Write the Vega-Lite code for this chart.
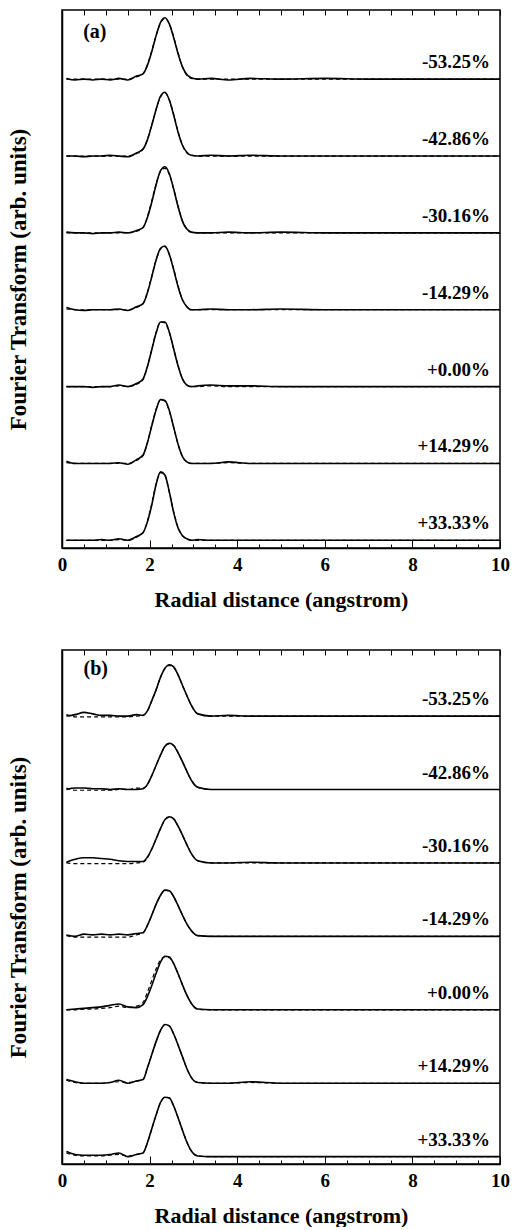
{
"$schema": "https://vega.github.io/schema/vega-lite/v6.json",
"padding": {"left": 6, "top": 8, "right": 2, "bottom": 0},
"config": {"font": "Liberation Serif", "view": {"stroke": "black", "strokeWidth": 1.5},
 "axis": {"domainColor": "black", "domainWidth": 1.5, "tickColor": "black", "tickWidth": 1, "labelColor": "black", "titleColor": "black", "labelFont": "Liberation Serif", "titleFont": "Liberation Serif", "labelFontWeight": "bold", "titleFontWeight": "bold", "grid": false}},
"spacing": 37,
"datasets": {"d": [
{"p":"a","s":"-53.25%","r":0.1,"e":6.11,"f":6.10},{"p":"a","s":"-53.25%","r":0.3,"e":6.09,"f":6.10},{"p":"a","s":"-53.25%","r":0.5,"e":6.10,"f":6.10},{"p":"a","s":"-53.25%","r":0.7,"e":6.09,"f":6.10},{"p":"a","s":"-53.25%","r":0.9,"e":6.10,"f":6.10},{"p":"a","s":"-53.25%","r":1.1,"e":6.09,"f":6.10},{"p":"a","s":"-53.25%","r":1.3,"e":6.11,"f":6.10},{"p":"a","s":"-53.25%","r":1.5,"e":6.09,"f":6.10},{"p":"a","s":"-53.25%","r":1.7,"e":6.14,"f":6.13},{"p":"a","s":"-53.25%","r":1.85,"e":6.17,"f":6.17},{"p":"a","s":"-53.25%","r":1.95,"e":6.28,"f":6.29},{"p":"a","s":"-53.25%","r":2.05,"e":6.46,"f":6.47},{"p":"a","s":"-53.25%","r":2.15,"e":6.67,"f":6.67},{"p":"a","s":"-53.25%","r":2.25,"e":6.84,"f":6.83},{"p":"a","s":"-53.25%","r":2.35,"e":6.90,"f":6.89},{"p":"a","s":"-53.25%","r":2.45,"e":6.82,"f":6.82},{"p":"a","s":"-53.25%","r":2.55,"e":6.64,"f":6.65},{"p":"a","s":"-53.25%","r":2.65,"e":6.43,"f":6.44},{"p":"a","s":"-53.25%","r":2.75,"e":6.26,"f":6.26},{"p":"a","s":"-53.25%","r":2.85,"e":6.16,"f":6.15},{"p":"a","s":"-53.25%","r":2.95,"e":6.12,"f":6.11},{"p":"a","s":"-53.25%","r":3.1,"e":6.10,"f":6.10},{"p":"a","s":"-53.25%","r":3.4,"e":6.11,"f":6.10},{"p":"a","s":"-53.25%","r":3.8,"e":6.09,"f":6.10},{"p":"a","s":"-53.25%","r":4.3,"e":6.11,"f":6.10},{"p":"a","s":"-53.25%","r":5,"e":6.10,"f":6.10},{"p":"a","s":"-53.25%","r":6,"e":6.11,"f":6.10},{"p":"a","s":"-53.25%","r":7,"e":6.10,"f":6.10},{"p":"a","s":"-53.25%","r":8,"e":6.10,"f":6.10},{"p":"a","s":"-53.25%","r":9,"e":6.10,"f":6.10},{"p":"a","s":"-53.25%","r":10,"e":6.10,"f":6.10},
{"p":"a","s":"-42.86%","r":0.1,"e":5.10,"f":5.10},{"p":"a","s":"-42.86%","r":0.3,"e":5.10,"f":5.10},{"p":"a","s":"-42.86%","r":0.5,"e":5.09,"f":5.10},{"p":"a","s":"-42.86%","r":0.7,"e":5.10,"f":5.10},{"p":"a","s":"-42.86%","r":0.9,"e":5.10,"f":5.10},{"p":"a","s":"-42.86%","r":1.1,"e":5.11,"f":5.10},{"p":"a","s":"-42.86%","r":1.3,"e":5.10,"f":5.10},{"p":"a","s":"-42.86%","r":1.5,"e":5.09,"f":5.10},{"p":"a","s":"-42.86%","r":1.7,"e":5.14,"f":5.13},{"p":"a","s":"-42.86%","r":1.85,"e":5.19,"f":5.19},{"p":"a","s":"-42.86%","r":1.95,"e":5.31,"f":5.32},{"p":"a","s":"-42.86%","r":2.05,"e":5.50,"f":5.51},{"p":"a","s":"-42.86%","r":2.15,"e":5.71,"f":5.71},{"p":"a","s":"-42.86%","r":2.25,"e":5.88,"f":5.87},{"p":"a","s":"-42.86%","r":2.35,"e":5.93,"f":5.92},{"p":"a","s":"-42.86%","r":2.45,"e":5.83,"f":5.83},{"p":"a","s":"-42.86%","r":2.55,"e":5.63,"f":5.64},{"p":"a","s":"-42.86%","r":2.65,"e":5.41,"f":5.42},{"p":"a","s":"-42.86%","r":2.75,"e":5.24,"f":5.24},{"p":"a","s":"-42.86%","r":2.85,"e":5.15,"f":5.14},{"p":"a","s":"-42.86%","r":2.95,"e":5.11,"f":5.11},{"p":"a","s":"-42.86%","r":3.1,"e":5.10,"f":5.10},{"p":"a","s":"-42.86%","r":3.4,"e":5.11,"f":5.10},{"p":"a","s":"-42.86%","r":3.8,"e":5.10,"f":5.10},{"p":"a","s":"-42.86%","r":4.3,"e":5.11,"f":5.10},{"p":"a","s":"-42.86%","r":5,"e":5.10,"f":5.10},{"p":"a","s":"-42.86%","r":6,"e":5.10,"f":5.10},{"p":"a","s":"-42.86%","r":7,"e":5.10,"f":5.10},{"p":"a","s":"-42.86%","r":8,"e":5.10,"f":5.10},{"p":"a","s":"-42.86%","r":9,"e":5.10,"f":5.10},{"p":"a","s":"-42.86%","r":10,"e":5.10,"f":5.10},
{"p":"a","s":"-30.16%","r":0.1,"e":4.11,"f":4.10},{"p":"a","s":"-30.16%","r":0.3,"e":4.10,"f":4.10},{"p":"a","s":"-30.16%","r":0.5,"e":4.10,"f":4.10},{"p":"a","s":"-30.16%","r":0.7,"e":4.09,"f":4.10},{"p":"a","s":"-30.16%","r":0.9,"e":4.10,"f":4.10},{"p":"a","s":"-30.16%","r":1.1,"e":4.10,"f":4.10},{"p":"a","s":"-30.16%","r":1.3,"e":4.11,"f":4.10},{"p":"a","s":"-30.16%","r":1.5,"e":4.10,"f":4.10},{"p":"a","s":"-30.16%","r":1.7,"e":4.13,"f":4.12},{"p":"a","s":"-30.16%","r":1.85,"e":4.17,"f":4.17},{"p":"a","s":"-30.16%","r":1.95,"e":4.30,"f":4.31},{"p":"a","s":"-30.16%","r":2.05,"e":4.50,"f":4.52},{"p":"a","s":"-30.16%","r":2.15,"e":4.73,"f":4.74},{"p":"a","s":"-30.16%","r":2.25,"e":4.91,"f":4.90},{"p":"a","s":"-30.16%","r":2.35,"e":4.96,"f":4.94},{"p":"a","s":"-30.16%","r":2.45,"e":4.87,"f":4.86},{"p":"a","s":"-30.16%","r":2.55,"e":4.67,"f":4.67},{"p":"a","s":"-30.16%","r":2.65,"e":4.44,"f":4.45},{"p":"a","s":"-30.16%","r":2.75,"e":4.25,"f":4.26},{"p":"a","s":"-30.16%","r":2.85,"e":4.15,"f":4.15},{"p":"a","s":"-30.16%","r":2.95,"e":4.11,"f":4.11},{"p":"a","s":"-30.16%","r":3.1,"e":4.10,"f":4.10},{"p":"a","s":"-30.16%","r":3.4,"e":4.10,"f":4.10},{"p":"a","s":"-30.16%","r":3.8,"e":4.11,"f":4.10},{"p":"a","s":"-30.16%","r":4.3,"e":4.10,"f":4.10},{"p":"a","s":"-30.16%","r":5,"e":4.11,"f":4.10},{"p":"a","s":"-30.16%","r":6,"e":4.10,"f":4.10},{"p":"a","s":"-30.16%","r":7,"e":4.10,"f":4.10},{"p":"a","s":"-30.16%","r":8,"e":4.10,"f":4.10},{"p":"a","s":"-30.16%","r":9,"e":4.10,"f":4.10},{"p":"a","s":"-30.16%","r":10,"e":4.10,"f":4.10},
{"p":"a","s":"-14.29%","r":0.1,"e":3.13,"f":3.11},{"p":"a","s":"-14.29%","r":0.3,"e":3.10,"f":3.10},{"p":"a","s":"-14.29%","r":0.5,"e":3.09,"f":3.10},{"p":"a","s":"-14.29%","r":0.7,"e":3.10,"f":3.10},{"p":"a","s":"-14.29%","r":0.9,"e":3.10,"f":3.10},{"p":"a","s":"-14.29%","r":1.1,"e":3.10,"f":3.10},{"p":"a","s":"-14.29%","r":1.3,"e":3.11,"f":3.10},{"p":"a","s":"-14.29%","r":1.5,"e":3.09,"f":3.10},{"p":"a","s":"-14.29%","r":1.7,"e":3.14,"f":3.13},{"p":"a","s":"-14.29%","r":1.85,"e":3.18,"f":3.18},{"p":"a","s":"-14.29%","r":1.95,"e":3.32,"f":3.33},{"p":"a","s":"-14.29%","r":2.05,"e":3.53,"f":3.54},{"p":"a","s":"-14.29%","r":2.15,"e":3.75,"f":3.75},{"p":"a","s":"-14.29%","r":2.25,"e":3.90,"f":3.89},{"p":"a","s":"-14.29%","r":2.35,"e":3.93,"f":3.92},{"p":"a","s":"-14.29%","r":2.45,"e":3.82,"f":3.82},{"p":"a","s":"-14.29%","r":2.55,"e":3.62,"f":3.63},{"p":"a","s":"-14.29%","r":2.65,"e":3.40,"f":3.41},{"p":"a","s":"-14.29%","r":2.75,"e":3.23,"f":3.23},{"p":"a","s":"-14.29%","r":2.85,"e":3.14,"f":3.14},{"p":"a","s":"-14.29%","r":2.95,"e":3.10,"f":3.10},{"p":"a","s":"-14.29%","r":3.1,"e":3.10,"f":3.10},{"p":"a","s":"-14.29%","r":3.4,"e":3.11,"f":3.10},{"p":"a","s":"-14.29%","r":3.8,"e":3.10,"f":3.10},{"p":"a","s":"-14.29%","r":4.3,"e":3.10,"f":3.10},{"p":"a","s":"-14.29%","r":5,"e":3.11,"f":3.10},{"p":"a","s":"-14.29%","r":6,"e":3.10,"f":3.10},{"p":"a","s":"-14.29%","r":7,"e":3.10,"f":3.10},{"p":"a","s":"-14.29%","r":8,"e":3.10,"f":3.10},{"p":"a","s":"-14.29%","r":9,"e":3.10,"f":3.10},{"p":"a","s":"-14.29%","r":10,"e":3.10,"f":3.10},
{"p":"a","s":"+0.00%","r":0.1,"e":2.10,"f":2.10},{"p":"a","s":"+0.00%","r":0.3,"e":2.10,"f":2.10},{"p":"a","s":"+0.00%","r":0.5,"e":2.10,"f":2.10},{"p":"a","s":"+0.00%","r":0.7,"e":2.09,"f":2.10},{"p":"a","s":"+0.00%","r":0.9,"e":2.10,"f":2.10},{"p":"a","s":"+0.00%","r":1.1,"e":2.10,"f":2.10},{"p":"a","s":"+0.00%","r":1.3,"e":2.12,"f":2.11},{"p":"a","s":"+0.00%","r":1.5,"e":2.10,"f":2.10},{"p":"a","s":"+0.00%","r":1.7,"e":2.14,"f":2.13},{"p":"a","s":"+0.00%","r":1.85,"e":2.20,"f":2.19},{"p":"a","s":"+0.00%","r":1.95,"e":2.36,"f":2.36},{"p":"a","s":"+0.00%","r":2.05,"e":2.58,"f":2.59},{"p":"a","s":"+0.00%","r":2.15,"e":2.80,"f":2.81},{"p":"a","s":"+0.00%","r":2.25,"e":2.94,"f":2.94},{"p":"a","s":"+0.00%","r":2.35,"e":2.94,"f":2.93},{"p":"a","s":"+0.00%","r":2.45,"e":2.81,"f":2.80},{"p":"a","s":"+0.00%","r":2.55,"e":2.59,"f":2.59},{"p":"a","s":"+0.00%","r":2.65,"e":2.37,"f":2.37},{"p":"a","s":"+0.00%","r":2.75,"e":2.20,"f":2.20},{"p":"a","s":"+0.00%","r":2.85,"e":2.12,"f":2.12},{"p":"a","s":"+0.00%","r":2.95,"e":2.10,"f":2.10},{"p":"a","s":"+0.00%","r":3.1,"e":2.11,"f":2.10},{"p":"a","s":"+0.00%","r":3.4,"e":2.12,"f":2.11},{"p":"a","s":"+0.00%","r":3.8,"e":2.11,"f":2.10},{"p":"a","s":"+0.00%","r":4.3,"e":2.11,"f":2.10},{"p":"a","s":"+0.00%","r":5,"e":2.10,"f":2.10},{"p":"a","s":"+0.00%","r":6,"e":2.10,"f":2.10},{"p":"a","s":"+0.00%","r":7,"e":2.10,"f":2.10},{"p":"a","s":"+0.00%","r":8,"e":2.10,"f":2.10},{"p":"a","s":"+0.00%","r":9,"e":2.10,"f":2.10},{"p":"a","s":"+0.00%","r":10,"e":2.10,"f":2.10},
{"p":"a","s":"+14.29%","r":0.1,"e":1.13,"f":1.11},{"p":"a","s":"+14.29%","r":0.3,"e":1.10,"f":1.10},{"p":"a","s":"+14.29%","r":0.5,"e":1.10,"f":1.10},{"p":"a","s":"+14.29%","r":0.7,"e":1.10,"f":1.10},{"p":"a","s":"+14.29%","r":0.9,"e":1.10,"f":1.10},{"p":"a","s":"+14.29%","r":1.1,"e":1.10,"f":1.10},{"p":"a","s":"+14.29%","r":1.3,"e":1.11,"f":1.10},{"p":"a","s":"+14.29%","r":1.5,"e":1.09,"f":1.10},{"p":"a","s":"+14.29%","r":1.7,"e":1.15,"f":1.14},{"p":"a","s":"+14.29%","r":1.85,"e":1.21,"f":1.20},{"p":"a","s":"+14.29%","r":1.95,"e":1.37,"f":1.37},{"p":"a","s":"+14.29%","r":2.05,"e":1.59,"f":1.60},{"p":"a","s":"+14.29%","r":2.15,"e":1.80,"f":1.81},{"p":"a","s":"+14.29%","r":2.25,"e":1.93,"f":1.93},{"p":"a","s":"+14.29%","r":2.35,"e":1.92,"f":1.91},{"p":"a","s":"+14.29%","r":2.45,"e":1.79,"f":1.78},{"p":"a","s":"+14.29%","r":2.55,"e":1.57,"f":1.57},{"p":"a","s":"+14.29%","r":2.65,"e":1.35,"f":1.35},{"p":"a","s":"+14.29%","r":2.75,"e":1.19,"f":1.19},{"p":"a","s":"+14.29%","r":2.85,"e":1.12,"f":1.12},{"p":"a","s":"+14.29%","r":2.95,"e":1.10,"f":1.10},{"p":"a","s":"+14.29%","r":3.1,"e":1.10,"f":1.10},{"p":"a","s":"+14.29%","r":3.4,"e":1.10,"f":1.10},{"p":"a","s":"+14.29%","r":3.8,"e":1.12,"f":1.11},{"p":"a","s":"+14.29%","r":4.3,"e":1.10,"f":1.10},{"p":"a","s":"+14.29%","r":5,"e":1.10,"f":1.10},{"p":"a","s":"+14.29%","r":6,"e":1.10,"f":1.10},{"p":"a","s":"+14.29%","r":7,"e":1.10,"f":1.10},{"p":"a","s":"+14.29%","r":8,"e":1.10,"f":1.10},{"p":"a","s":"+14.29%","r":9,"e":1.10,"f":1.10},{"p":"a","s":"+14.29%","r":10,"e":1.10,"f":1.10},
{"p":"a","s":"+33.33%","r":0.1,"e":0.10,"f":0.10},{"p":"a","s":"+33.33%","r":0.3,"e":0.10,"f":0.10},{"p":"a","s":"+33.33%","r":0.5,"e":0.10,"f":0.10},{"p":"a","s":"+33.33%","r":0.7,"e":0.10,"f":0.10},{"p":"a","s":"+33.33%","r":0.9,"e":0.11,"f":0.10},{"p":"a","s":"+33.33%","r":1.1,"e":0.10,"f":0.10},{"p":"a","s":"+33.33%","r":1.3,"e":0.12,"f":0.11},{"p":"a","s":"+33.33%","r":1.5,"e":0.10,"f":0.10},{"p":"a","s":"+33.33%","r":1.7,"e":0.15,"f":0.14},{"p":"a","s":"+33.33%","r":1.85,"e":0.20,"f":0.20},{"p":"a","s":"+33.33%","r":1.95,"e":0.34,"f":0.35},{"p":"a","s":"+33.33%","r":2.05,"e":0.56,"f":0.58},{"p":"a","s":"+33.33%","r":2.15,"e":0.83,"f":0.84},{"p":"a","s":"+33.33%","r":2.25,"e":0.99,"f":0.98},{"p":"a","s":"+33.33%","r":2.35,"e":0.95,"f":0.94},{"p":"a","s":"+33.33%","r":2.45,"e":0.73,"f":0.73},{"p":"a","s":"+33.33%","r":2.55,"e":0.46,"f":0.47},{"p":"a","s":"+33.33%","r":2.65,"e":0.26,"f":0.27},{"p":"a","s":"+33.33%","r":2.75,"e":0.16,"f":0.16},{"p":"a","s":"+33.33%","r":2.85,"e":0.12,"f":0.12},{"p":"a","s":"+33.33%","r":2.95,"e":0.10,"f":0.10},{"p":"a","s":"+33.33%","r":3.1,"e":0.11,"f":0.10},{"p":"a","s":"+33.33%","r":3.4,"e":0.10,"f":0.10},{"p":"a","s":"+33.33%","r":3.8,"e":0.10,"f":0.10},{"p":"a","s":"+33.33%","r":4.3,"e":0.10,"f":0.10},{"p":"a","s":"+33.33%","r":5,"e":0.10,"f":0.10},{"p":"a","s":"+33.33%","r":6,"e":0.10,"f":0.10},{"p":"a","s":"+33.33%","r":7,"e":0.10,"f":0.10},{"p":"a","s":"+33.33%","r":8,"e":0.10,"f":0.10},{"p":"a","s":"+33.33%","r":9,"e":0.10,"f":0.10},{"p":"a","s":"+33.33%","r":10,"e":0.10,"f":0.10},
{"p":"b","s":"-53.25%","r":0.1,"e":6.10,"f":6.12},{"p":"b","s":"-53.25%","r":0.3,"e":6.12,"f":6.09},{"p":"b","s":"-53.25%","r":0.5,"e":6.15,"f":6.09},{"p":"b","s":"-53.25%","r":0.7,"e":6.13,"f":6.09},{"p":"b","s":"-53.25%","r":0.9,"e":6.11,"f":6.09},{"p":"b","s":"-53.25%","r":1.1,"e":6.11,"f":6.09},{"p":"b","s":"-53.25%","r":1.3,"e":6.10,"f":6.09},{"p":"b","s":"-53.25%","r":1.5,"e":6.10,"f":6.09},{"p":"b","s":"-53.25%","r":1.7,"e":6.12,"f":6.10},{"p":"b","s":"-53.25%","r":1.85,"e":6.11,"f":6.11},{"p":"b","s":"-53.25%","r":1.95,"e":6.17,"f":6.17},{"p":"b","s":"-53.25%","r":2.05,"e":6.31,"f":6.31},{"p":"b","s":"-53.25%","r":2.15,"e":6.46,"f":6.46},{"p":"b","s":"-53.25%","r":2.25,"e":6.63,"f":6.63},{"p":"b","s":"-53.25%","r":2.35,"e":6.75,"f":6.75},{"p":"b","s":"-53.25%","r":2.45,"e":6.80,"f":6.79},{"p":"b","s":"-53.25%","r":2.55,"e":6.77,"f":6.76},{"p":"b","s":"-53.25%","r":2.65,"e":6.66,"f":6.66},{"p":"b","s":"-53.25%","r":2.75,"e":6.52,"f":6.52},{"p":"b","s":"-53.25%","r":2.85,"e":6.38,"f":6.38},{"p":"b","s":"-53.25%","r":2.95,"e":6.25,"f":6.25},{"p":"b","s":"-53.25%","r":3.1,"e":6.13,"f":6.13},{"p":"b","s":"-53.25%","r":3.4,"e":6.10,"f":6.10},{"p":"b","s":"-53.25%","r":3.8,"e":6.11,"f":6.10},{"p":"b","s":"-53.25%","r":4.3,"e":6.10,"f":6.10},{"p":"b","s":"-53.25%","r":5,"e":6.10,"f":6.10},{"p":"b","s":"-53.25%","r":6,"e":6.10,"f":6.10},{"p":"b","s":"-53.25%","r":7,"e":6.10,"f":6.10},{"p":"b","s":"-53.25%","r":8,"e":6.10,"f":6.10},{"p":"b","s":"-53.25%","r":9,"e":6.10,"f":6.10},{"p":"b","s":"-53.25%","r":10,"e":6.10,"f":6.10},
{"p":"b","s":"-42.86%","r":0.1,"e":5.10,"f":5.12},{"p":"b","s":"-42.86%","r":0.3,"e":5.12,"f":5.09},{"p":"b","s":"-42.86%","r":0.5,"e":5.12,"f":5.09},{"p":"b","s":"-42.86%","r":0.7,"e":5.11,"f":5.09},{"p":"b","s":"-42.86%","r":0.9,"e":5.11,"f":5.09},{"p":"b","s":"-42.86%","r":1.1,"e":5.10,"f":5.09},{"p":"b","s":"-42.86%","r":1.3,"e":5.11,"f":5.10},{"p":"b","s":"-42.86%","r":1.5,"e":5.10,"f":5.10},{"p":"b","s":"-42.86%","r":1.7,"e":5.10,"f":5.12},{"p":"b","s":"-42.86%","r":1.85,"e":5.11,"f":5.12},{"p":"b","s":"-42.86%","r":1.95,"e":5.17,"f":5.17},{"p":"b","s":"-42.86%","r":2.05,"e":5.29,"f":5.29},{"p":"b","s":"-42.86%","r":2.15,"e":5.43,"f":5.43},{"p":"b","s":"-42.86%","r":2.25,"e":5.57,"f":5.57},{"p":"b","s":"-42.86%","r":2.35,"e":5.69,"f":5.69},{"p":"b","s":"-42.86%","r":2.45,"e":5.73,"f":5.72},{"p":"b","s":"-42.86%","r":2.55,"e":5.70,"f":5.70},{"p":"b","s":"-42.86%","r":2.65,"e":5.60,"f":5.60},{"p":"b","s":"-42.86%","r":2.75,"e":5.48,"f":5.48},{"p":"b","s":"-42.86%","r":2.85,"e":5.35,"f":5.35},{"p":"b","s":"-42.86%","r":2.95,"e":5.23,"f":5.23},{"p":"b","s":"-42.86%","r":3.1,"e":5.13,"f":5.13},{"p":"b","s":"-42.86%","r":3.4,"e":5.10,"f":5.10},{"p":"b","s":"-42.86%","r":3.8,"e":5.10,"f":5.10},{"p":"b","s":"-42.86%","r":4.3,"e":5.10,"f":5.10},{"p":"b","s":"-42.86%","r":5,"e":5.10,"f":5.10},{"p":"b","s":"-42.86%","r":6,"e":5.10,"f":5.10},{"p":"b","s":"-42.86%","r":7,"e":5.10,"f":5.10},{"p":"b","s":"-42.86%","r":8,"e":5.10,"f":5.10},{"p":"b","s":"-42.86%","r":9,"e":5.10,"f":5.10},{"p":"b","s":"-42.86%","r":10,"e":5.10,"f":5.10},
{"p":"b","s":"-30.16%","r":0.1,"e":4.11,"f":4.10},{"p":"b","s":"-30.16%","r":0.3,"e":4.15,"f":4.09},{"p":"b","s":"-30.16%","r":0.5,"e":4.17,"f":4.09},{"p":"b","s":"-30.16%","r":0.7,"e":4.17,"f":4.09},{"p":"b","s":"-30.16%","r":0.9,"e":4.16,"f":4.09},{"p":"b","s":"-30.16%","r":1.1,"e":4.15,"f":4.09},{"p":"b","s":"-30.16%","r":1.3,"e":4.13,"f":4.09},{"p":"b","s":"-30.16%","r":1.5,"e":4.12,"f":4.09},{"p":"b","s":"-30.16%","r":1.7,"e":4.12,"f":4.10},{"p":"b","s":"-30.16%","r":1.85,"e":4.12,"f":4.11},{"p":"b","s":"-30.16%","r":1.95,"e":4.18,"f":4.17},{"p":"b","s":"-30.16%","r":2.05,"e":4.29,"f":4.29},{"p":"b","s":"-30.16%","r":2.15,"e":4.43,"f":4.43},{"p":"b","s":"-30.16%","r":2.25,"e":4.57,"f":4.57},{"p":"b","s":"-30.16%","r":2.35,"e":4.69,"f":4.69},{"p":"b","s":"-30.16%","r":2.45,"e":4.73,"f":4.72},{"p":"b","s":"-30.16%","r":2.55,"e":4.70,"f":4.70},{"p":"b","s":"-30.16%","r":2.65,"e":4.60,"f":4.60},{"p":"b","s":"-30.16%","r":2.75,"e":4.48,"f":4.48},{"p":"b","s":"-30.16%","r":2.85,"e":4.35,"f":4.35},{"p":"b","s":"-30.16%","r":2.95,"e":4.23,"f":4.23},{"p":"b","s":"-30.16%","r":3.1,"e":4.13,"f":4.13},{"p":"b","s":"-30.16%","r":3.4,"e":4.10,"f":4.10},{"p":"b","s":"-30.16%","r":3.8,"e":4.10,"f":4.10},{"p":"b","s":"-30.16%","r":4.3,"e":4.11,"f":4.10},{"p":"b","s":"-30.16%","r":5,"e":4.10,"f":4.10},{"p":"b","s":"-30.16%","r":6,"e":4.10,"f":4.10},{"p":"b","s":"-30.16%","r":7,"e":4.10,"f":4.10},{"p":"b","s":"-30.16%","r":8,"e":4.10,"f":4.10},{"p":"b","s":"-30.16%","r":9,"e":4.10,"f":4.10},{"p":"b","s":"-30.16%","r":10,"e":4.10,"f":4.10},
{"p":"b","s":"-14.29%","r":0.1,"e":3.12,"f":3.11},{"p":"b","s":"-14.29%","r":0.3,"e":3.10,"f":3.09},{"p":"b","s":"-14.29%","r":0.5,"e":3.13,"f":3.09},{"p":"b","s":"-14.29%","r":0.7,"e":3.12,"f":3.09},{"p":"b","s":"-14.29%","r":0.9,"e":3.13,"f":3.09},{"p":"b","s":"-14.29%","r":1.1,"e":3.12,"f":3.09},{"p":"b","s":"-14.29%","r":1.3,"e":3.13,"f":3.09},{"p":"b","s":"-14.29%","r":1.5,"e":3.12,"f":3.09},{"p":"b","s":"-14.29%","r":1.7,"e":3.14,"f":3.12},{"p":"b","s":"-14.29%","r":1.85,"e":3.15,"f":3.15},{"p":"b","s":"-14.29%","r":1.95,"e":3.25,"f":3.25},{"p":"b","s":"-14.29%","r":2.05,"e":3.39,"f":3.39},{"p":"b","s":"-14.29%","r":2.15,"e":3.54,"f":3.54},{"p":"b","s":"-14.29%","r":2.25,"e":3.66,"f":3.66},{"p":"b","s":"-14.29%","r":2.35,"e":3.73,"f":3.73},{"p":"b","s":"-14.29%","r":2.45,"e":3.72,"f":3.72},{"p":"b","s":"-14.29%","r":2.55,"e":3.64,"f":3.64},{"p":"b","s":"-14.29%","r":2.65,"e":3.52,"f":3.52},{"p":"b","s":"-14.29%","r":2.75,"e":3.39,"f":3.39},{"p":"b","s":"-14.29%","r":2.85,"e":3.27,"f":3.27},{"p":"b","s":"-14.29%","r":2.95,"e":3.18,"f":3.18},{"p":"b","s":"-14.29%","r":3.1,"e":3.11,"f":3.11},{"p":"b","s":"-14.29%","r":3.4,"e":3.10,"f":3.10},{"p":"b","s":"-14.29%","r":3.8,"e":3.10,"f":3.10},{"p":"b","s":"-14.29%","r":4.3,"e":3.10,"f":3.10},{"p":"b","s":"-14.29%","r":5,"e":3.10,"f":3.10},{"p":"b","s":"-14.29%","r":6,"e":3.10,"f":3.10},{"p":"b","s":"-14.29%","r":7,"e":3.10,"f":3.10},{"p":"b","s":"-14.29%","r":8,"e":3.10,"f":3.10},{"p":"b","s":"-14.29%","r":9,"e":3.10,"f":3.10},{"p":"b","s":"-14.29%","r":10,"e":3.10,"f":3.10},
{"p":"b","s":"+0.00%","r":0.1,"e":2.10,"f":2.10},{"p":"b","s":"+0.00%","r":0.3,"e":2.11,"f":2.10},{"p":"b","s":"+0.00%","r":0.5,"e":2.12,"f":2.11},{"p":"b","s":"+0.00%","r":0.7,"e":2.13,"f":2.11},{"p":"b","s":"+0.00%","r":0.9,"e":2.14,"f":2.12},{"p":"b","s":"+0.00%","r":1.1,"e":2.16,"f":2.13},{"p":"b","s":"+0.00%","r":1.3,"e":2.18,"f":2.15},{"p":"b","s":"+0.00%","r":1.5,"e":2.14,"f":2.13},{"p":"b","s":"+0.00%","r":1.7,"e":2.13,"f":2.15},{"p":"b","s":"+0.00%","r":1.85,"e":2.17,"f":2.20},{"p":"b","s":"+0.00%","r":1.95,"e":2.28,"f":2.34},{"p":"b","s":"+0.00%","r":2.05,"e":2.43,"f":2.50},{"p":"b","s":"+0.00%","r":2.15,"e":2.60,"f":2.66},{"p":"b","s":"+0.00%","r":2.25,"e":2.75,"f":2.78},{"p":"b","s":"+0.00%","r":2.35,"e":2.83,"f":2.82},{"p":"b","s":"+0.00%","r":2.45,"e":2.82,"f":2.81},{"p":"b","s":"+0.00%","r":2.55,"e":2.73,"f":2.73},{"p":"b","s":"+0.00%","r":2.65,"e":2.59,"f":2.59},{"p":"b","s":"+0.00%","r":2.75,"e":2.44,"f":2.44},{"p":"b","s":"+0.00%","r":2.85,"e":2.30,"f":2.30},{"p":"b","s":"+0.00%","r":2.95,"e":2.19,"f":2.19},{"p":"b","s":"+0.00%","r":3.1,"e":2.11,"f":2.11},{"p":"b","s":"+0.00%","r":3.4,"e":2.10,"f":2.10},{"p":"b","s":"+0.00%","r":3.8,"e":2.10,"f":2.10},{"p":"b","s":"+0.00%","r":4.3,"e":2.10,"f":2.10},{"p":"b","s":"+0.00%","r":5,"e":2.10,"f":2.10},{"p":"b","s":"+0.00%","r":6,"e":2.10,"f":2.10},{"p":"b","s":"+0.00%","r":7,"e":2.10,"f":2.10},{"p":"b","s":"+0.00%","r":8,"e":2.10,"f":2.10},{"p":"b","s":"+0.00%","r":9,"e":2.10,"f":2.10},{"p":"b","s":"+0.00%","r":10,"e":2.10,"f":2.10},
{"p":"b","s":"+14.29%","r":0.1,"e":1.15,"f":1.14},{"p":"b","s":"+14.29%","r":0.3,"e":1.12,"f":1.11},{"p":"b","s":"+14.29%","r":0.5,"e":1.10,"f":1.10},{"p":"b","s":"+14.29%","r":0.7,"e":1.10,"f":1.10},{"p":"b","s":"+14.29%","r":0.9,"e":1.10,"f":1.10},{"p":"b","s":"+14.29%","r":1.1,"e":1.11,"f":1.11},{"p":"b","s":"+14.29%","r":1.3,"e":1.14,"f":1.12},{"p":"b","s":"+14.29%","r":1.5,"e":1.10,"f":1.11},{"p":"b","s":"+14.29%","r":1.7,"e":1.13,"f":1.13},{"p":"b","s":"+14.29%","r":1.85,"e":1.15,"f":1.15},{"p":"b","s":"+14.29%","r":1.95,"e":1.31,"f":1.31},{"p":"b","s":"+14.29%","r":2.05,"e":1.49,"f":1.49},{"p":"b","s":"+14.29%","r":2.15,"e":1.67,"f":1.67},{"p":"b","s":"+14.29%","r":2.25,"e":1.82,"f":1.82},{"p":"b","s":"+14.29%","r":2.35,"e":1.90,"f":1.90},{"p":"b","s":"+14.29%","r":2.45,"e":1.88,"f":1.88},{"p":"b","s":"+14.29%","r":2.55,"e":1.77,"f":1.77},{"p":"b","s":"+14.29%","r":2.65,"e":1.62,"f":1.62},{"p":"b","s":"+14.29%","r":2.75,"e":1.46,"f":1.46},{"p":"b","s":"+14.29%","r":2.85,"e":1.30,"f":1.30},{"p":"b","s":"+14.29%","r":2.95,"e":1.18,"f":1.18},{"p":"b","s":"+14.29%","r":3.1,"e":1.11,"f":1.11},{"p":"b","s":"+14.29%","r":3.4,"e":1.10,"f":1.10},{"p":"b","s":"+14.29%","r":3.8,"e":1.10,"f":1.10},{"p":"b","s":"+14.29%","r":4.3,"e":1.12,"f":1.11},{"p":"b","s":"+14.29%","r":5,"e":1.10,"f":1.10},{"p":"b","s":"+14.29%","r":6,"e":1.10,"f":1.10},{"p":"b","s":"+14.29%","r":7,"e":1.10,"f":1.10},{"p":"b","s":"+14.29%","r":8,"e":1.10,"f":1.10},{"p":"b","s":"+14.29%","r":9,"e":1.10,"f":1.10},{"p":"b","s":"+14.29%","r":10,"e":1.10,"f":1.10},
{"p":"b","s":"+33.33%","r":0.1,"e":0.17,"f":0.15},{"p":"b","s":"+33.33%","r":0.3,"e":0.13,"f":0.12},{"p":"b","s":"+33.33%","r":0.5,"e":0.12,"f":0.11},{"p":"b","s":"+33.33%","r":0.7,"e":0.12,"f":0.11},{"p":"b","s":"+33.33%","r":0.9,"e":0.12,"f":0.11},{"p":"b","s":"+33.33%","r":1.1,"e":0.13,"f":0.12},{"p":"b","s":"+33.33%","r":1.3,"e":0.15,"f":0.13},{"p":"b","s":"+33.33%","r":1.5,"e":0.10,"f":0.11},{"p":"b","s":"+33.33%","r":1.7,"e":0.13,"f":0.13},{"p":"b","s":"+33.33%","r":1.85,"e":0.15,"f":0.15},{"p":"b","s":"+33.33%","r":1.95,"e":0.29,"f":0.29},{"p":"b","s":"+33.33%","r":2.05,"e":0.48,"f":0.48},{"p":"b","s":"+33.33%","r":2.15,"e":0.67,"f":0.67},{"p":"b","s":"+33.33%","r":2.25,"e":0.84,"f":0.84},{"p":"b","s":"+33.33%","r":2.35,"e":0.91,"f":0.91},{"p":"b","s":"+33.33%","r":2.45,"e":0.90,"f":0.90},{"p":"b","s":"+33.33%","r":2.55,"e":0.79,"f":0.79},{"p":"b","s":"+33.33%","r":2.65,"e":0.63,"f":0.63},{"p":"b","s":"+33.33%","r":2.75,"e":0.46,"f":0.46},{"p":"b","s":"+33.33%","r":2.85,"e":0.30,"f":0.30},{"p":"b","s":"+33.33%","r":2.95,"e":0.18,"f":0.18},{"p":"b","s":"+33.33%","r":3.1,"e":0.11,"f":0.11},{"p":"b","s":"+33.33%","r":3.4,"e":0.10,"f":0.10},{"p":"b","s":"+33.33%","r":3.8,"e":0.10,"f":0.10},{"p":"b","s":"+33.33%","r":4.3,"e":0.10,"f":0.10},{"p":"b","s":"+33.33%","r":5,"e":0.10,"f":0.10},{"p":"b","s":"+33.33%","r":6,"e":0.10,"f":0.10},{"p":"b","s":"+33.33%","r":7,"e":0.10,"f":0.10},{"p":"b","s":"+33.33%","r":8,"e":0.10,"f":0.10},{"p":"b","s":"+33.33%","r":9,"e":0.10,"f":0.10},{"p":"b","s":"+33.33%","r":10,"e":0.10,"f":0.10}
]},
"vconcat": [
 {"data": {"name": "d"}, "width": 438, "height": 538,
  "transform": [{"filter": "datum.p === 'a'"}],
  "layer": [
   {"mark": {"type": "line", "interpolate": "monotone", "color": "black", "strokeWidth": 1.6},
    "encoding": {
     "x": {"field": "r", "type": "quantitative", "scale": {"domain": [0, 10], "nice": false},
       "axis": {"orient": "bottom", "title": "Radial distance (angstrom)", "titleFontSize": 22, "titlePadding": 11, "labelFontSize": 19, "labelFlush": false, "labelBound": false, "labelOverlap": false, "values": [0,0.5,1,1.5,2,2.5,3,3.5,4,4.5,5,5.5,6,6.5,7,7.5,8,8.5,9,9.5,10], "labelExpr": "datum.value % 2 === 0 ? format(datum.value, 'd') : ''", "tickSize": {"condition": {"test": "datum.value % 2 === 0", "value": -8}, "value": -4}, "labelPadding": 15}},
     "y": {"field": "e", "type": "quantitative", "scale": {"domain": [0, 7], "nice": false},
       "axis": {"title": "Fourier Transform (arb. units)", "titleFontSize": 23, "titlePadding": 32, "labels": false, "ticks": false}},
     "detail": {"field": "s"}}},
   {"mark": {"type": "line", "interpolate": "monotone", "color": "black", "strokeWidth": 1.2, "strokeDash": [4, 3]},
    "encoding": {"x": {"field": "r", "type": "quantitative", "axis": null}, "y": {"field": "f", "type": "quantitative"}, "detail": {"field": "s"}}},
   {"transform": [{"filter": "datum.r === 10"}],
    "mark": {"type": "text", "align": "right", "baseline": "bottom", "dx": -10, "dy": -7, "fontSize": 19, "fontWeight": "bold", "font": "Liberation Serif", "color": "black"},
    "encoding": {"x": {"field": "r", "type": "quantitative", "axis": null}, "y": {"field": "e", "type": "quantitative"}, "text": {"field": "s"}}},
   {"data": {"values": [{"t": "(a)"}]},
    "mark": {"type": "text", "fontSize": 20, "fontWeight": "bold", "font": "Liberation Serif", "color": "black"},
    "encoding": {"x": {"datum": 0.75, "type": "quantitative", "axis": null}, "y": {"datum": 6.72, "type": "quantitative"}, "text": {"field": "t"}}},
   {"mark": {"type": "tick", "opacity": 0},
    "encoding": {"x": {"field": "r", "type": "quantitative", "axis": {"orient": "top", "title": null, "labels": false, "domain": false, "values": [0,0.5,1,1.5,2,2.5,3,3.5,4,4.5,5,5.5,6,6.5,7,7.5,8,8.5,9,9.5,10], "tickSize": -5}}}}
  ],
  "resolve": {"axis": {"x": "independent"}}
 },
 {"data": {"name": "d"}, "width": 438, "height": 514,
  "transform": [{"filter": "datum.p === 'b'"}],
  "layer": [
   {"mark": {"type": "line", "interpolate": "monotone", "color": "black", "strokeWidth": 1.6},
    "encoding": {
     "x": {"field": "r", "type": "quantitative", "scale": {"domain": [0, 10], "nice": false},
       "axis": {"orient": "bottom", "title": "Radial distance (angstrom)", "titleFontSize": 22, "titlePadding": 11, "labelFontSize": 19, "labelFlush": false, "labelBound": false, "labelOverlap": false, "values": [0,0.5,1,1.5,2,2.5,3,3.5,4,4.5,5,5.5,6,6.5,7,7.5,8,8.5,9,9.5,10], "labelExpr": "datum.value % 2 === 0 ? format(datum.value, 'd') : ''", "tickSize": {"condition": {"test": "datum.value % 2 === 0", "value": -8}, "value": -4}, "labelPadding": 15}},
     "y": {"field": "e", "type": "quantitative", "scale": {"domain": [0, 7], "nice": false},
       "axis": {"title": "Fourier Transform (arb. units)", "titleFontSize": 23, "titlePadding": 32, "labels": false, "ticks": false}},
     "detail": {"field": "s"}}},
   {"mark": {"type": "line", "interpolate": "monotone", "color": "black", "strokeWidth": 1.2, "strokeDash": [4, 3]},
    "encoding": {"x": {"field": "r", "type": "quantitative", "axis": null}, "y": {"field": "f", "type": "quantitative"}, "detail": {"field": "s"}}},
   {"transform": [{"filter": "datum.r === 10"}],
    "mark": {"type": "text", "align": "right", "baseline": "bottom", "dx": -10, "dy": -7, "fontSize": 19, "fontWeight": "bold", "font": "Liberation Serif", "color": "black"},
    "encoding": {"x": {"field": "r", "type": "quantitative", "axis": null}, "y": {"field": "e", "type": "quantitative"}, "text": {"field": "s"}}},
   {"data": {"values": [{"t": "(b)"}]},
    "mark": {"type": "text", "fontSize": 20, "fontWeight": "bold", "font": "Liberation Serif", "color": "black"},
    "encoding": {"x": {"datum": 0.77, "type": "quantitative", "axis": null}, "y": {"datum": 6.74, "type": "quantitative"}, "text": {"field": "t"}}},
   {"mark": {"type": "tick", "opacity": 0},
    "encoding": {"x": {"field": "r", "type": "quantitative", "axis": {"orient": "top", "title": null, "labels": false, "domain": false, "values": [0,0.5,1,1.5,2,2.5,3,3.5,4,4.5,5,5.5,6,6.5,7,7.5,8,8.5,9,9.5,10], "tickSize": -5}}}}
  ],
  "resolve": {"axis": {"x": "independent"}}
 }
]
}
